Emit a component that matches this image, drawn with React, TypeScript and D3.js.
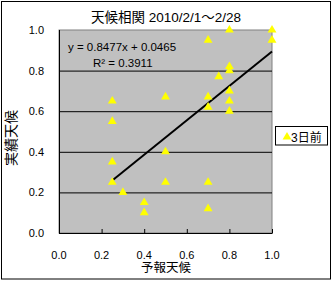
import React from "react";
import * as d3 from "d3";

const forecast = [0.8, 1.0, 1.0, 0.7, 0.8, 0.8, 0.75, 0.8, 0.8, 0.8, 0.7, 0.7, 0.5, 0.25, 0.25, 0.5, 0.25, 0.25, 0.5, 0.7, 0.3, 0.4, 0.4, 0.7];
const actual = [1.0, 1.0, 0.95, 0.95, 0.82, 0.8, 0.77, 0.7, 0.65, 0.6, 0.67, 0.62, 0.67, 0.65, 0.55, 0.4, 0.35, 0.25, 0.25, 0.25, 0.2, 0.15, 0.1, 0.12];
const xTicks = [0, 0.2, 0.4, 0.6, 0.8, 1.0];
const yTicks = [0, 0.2, 0.4, 0.6, 0.8, 1.0];
const slope = 0.8477;
const intercept = 0.0465;
const titleText = "天候相関 2010/2/1～2/28";
const eqText = "y = 0.8477x + 0.0465";
const r2Text = "R² = 0.3911";
const xTitle = "予報天候";
const yTitle = "実績天候";
const seriesName = "3日前";

const FONT = "'Liberation Sans', Arial, 'Noto Sans CJK JP', sans-serif";

export default function App() {
  const L = 59, R = 272, T = 30, B = 233;
  const x = d3.scaleLinear().domain([0, 1]).range([L, R]);
  const y = d3.scaleLinear().domain([0, 1]).range([B, T]);
  const tri = d3.symbol().type(d3.symbolTriangle).size(34)();
  const xMin = d3.min(forecast) as number;
  const xMax = d3.max(forecast) as number;
  const line = d3.line<number>().x((d) => x(d)).y((d) => y(slope * d + intercept));

  return (
    <svg width={333} height={281} style={{ position: "absolute", left: 0, top: 0, fontFamily: FONT }}>
      <rect x={0} y={0} width={333} height={281} fill="#fff" />
      <rect x={1.5} y={1.5} width={329} height={277.5} fill="none" stroke="#000" strokeWidth={1} />
      <text x={166} y={22} textAnchor="middle" fontSize={13.5} fill="#000">{titleText}</text>
      <rect x={L} y={T} width={R - L} height={B - T} fill="#c0c0c0" stroke="#808080" strokeWidth={1} />
      {yTicks.filter((t) => t > 0 && t < 1).map((t) => (
        <line key={"g" + t} x1={L} x2={R} y1={y(t) + 0.5} y2={y(t) + 0.5} stroke="#000" strokeWidth={1} />
      ))}
      <line x1={L + 0.5} x2={L + 0.5} y1={T} y2={B} stroke="#000" strokeWidth={1} />
      <line x1={L} x2={R + 0.5} y1={B + 0.5} y2={B + 0.5} stroke="#000" strokeWidth={1} />
      {xTicks.filter((t) => t > 0).map((t) => (
        <line key={"xt" + t} x1={x(t) + 0.5} x2={x(t) + 0.5} y1={B} y2={B - 4} stroke="#000" strokeWidth={1} />
      ))}
      {yTicks.map((t) => (
        <text key={"yl" + t} x={44} y={y(t) + 4} textAnchor="end" fontSize={11} fill="#000">{t.toFixed(1)}</text>
      ))}
      {xTicks.map((t) => (
        <text key={"xl" + t} x={x(t)} y={259} textAnchor="middle" fontSize={11} fill="#000">{t.toFixed(1)}</text>
      ))}
      <text x={166} y={272} textAnchor="middle" fontSize={12.5} fill="#000">{xTitle}</text>
      <text transform={`translate(16,138) rotate(-90)`} textAnchor="middle" fontSize={14} fill="#000">{yTitle}</text>
      <path d={line([xMin, xMax]) || ""} fill="none" stroke="#000" strokeWidth={2} />
      {forecast.map((f, i) => (
        <path key={"p" + i} d={tri || ""} transform={`translate(${x(f)},${y(actual[i])})`} fill="#ffff00" />
      ))}
      <text x={68} y={51} fontSize={11.5} fill="#000">{eqText}</text>
      <text x={93} y={67} fontSize={11.5} fill="#000">{r2Text}</text>
      <rect x={275.5} y={126.5} width={52} height={18.5} fill="#fff" stroke="#000" strokeWidth={1} />
      <path d={tri || ""} transform="translate(287,137)" fill="#ffff00" />
      <text x={291} y={141.5} fontSize={12} fill="#000">{seriesName}</text>
    </svg>
  );
}
